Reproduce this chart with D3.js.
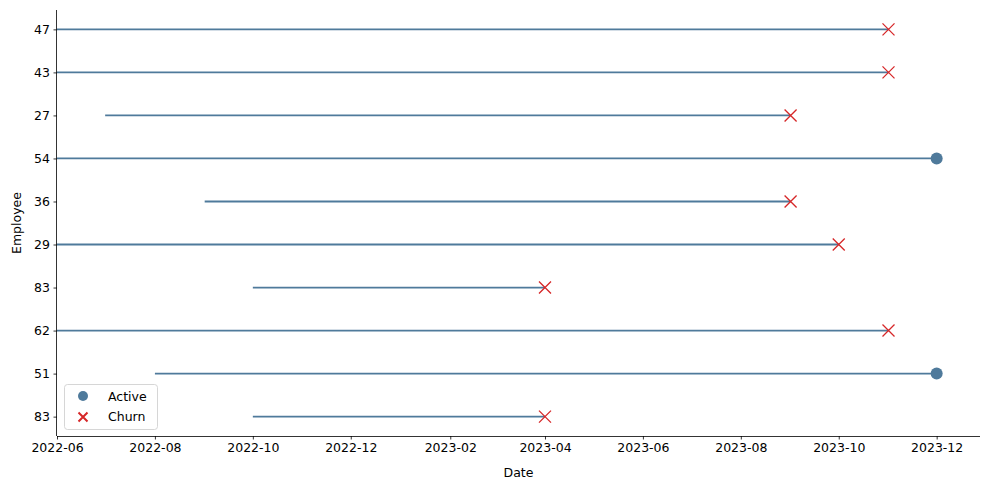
<!DOCTYPE html>
<html><head><meta charset="utf-8">
<script src="https://cdn.jsdelivr.net/npm/d3@7"></script>
<style>body{margin:0;background:#fff}text{font-family:"DejaVu Sans",sans-serif}</style>
</head><body><svg id="c" width="989" height="490"></svg>
<script>
const employees = ["83","51","62","83","29","36","54","27","43","47"];
const startDates = ["2022-10-01","2022-08-01","2022-06-01","2022-10-01","2022-06-01","2022-09-01","2022-06-01","2022-07-01","2022-06-01","2022-06-01"];
const endDates = ["2023-04-01","2023-12-01","2023-11-01","2023-04-01","2023-10-01","2023-09-01","2023-12-01","2023-09-01","2023-11-01","2023-11-01"];
const statuses = ["Churn","Active","Churn","Churn","Churn","Churn","Active","Churn","Churn","Churn"];
const xTicks = ["2022-06","2022-08","2022-10","2022-12","2023-02","2023-04","2023-06","2023-08","2023-10","2023-12"];

const parse = d3.timeParse("%Y-%m-%d");
const parseM = d3.timeParse("%Y-%m");
const svg = d3.select("#c");
const L=57,R=980,T=10,B=436;
const lineC="#4f7a9b", redC="#d62728";
const x = d3.scaleTime().domain([parse("2022-06-01"), parse("2023-12-28")]).range([L,R]);
const y = d3.scaleLinear().domain([-0.45, employees.length-1+0.45]).range([B,T]);

const xa = svg.append("g").attr("transform",`translate(0,${B})`)
  .call(d3.axisBottom(x).tickValues(xTicks.map(parseM)).tickFormat(d3.timeFormat("%Y-%m")).tickSize(3.5).tickPadding(3.5));
const ya = svg.append("g").attr("transform",`translate(${L},0)`)
  .call(d3.axisLeft(y).tickValues(d3.range(employees.length)).tickFormat(i=>employees[i]).tickSize(3.5).tickPadding(3.5));
[xa,ya].forEach(a=>{a.selectAll("text").attr("font-size",12.5).attr("fill","#000");a.selectAll("line,path").attr("stroke","#000").attr("stroke-width",0.8);});
xa.select(".domain").attr("d",`M${L},0.5H${R}`);
ya.select(".domain").attr("d",`M-0.5,${T}V${B}`);

const rows = employees.map((e,i)=>({i, s:parse(startDates[i]), e:parse(endDates[i]), st:statuses[i]}));
svg.append("g").selectAll("line").data(rows).join("line")
  .attr("x1",d=>x(d.s)).attr("x2",d=>x(d.e)).attr("y1",d=>y(d.i)).attr("y2",d=>y(d.i))
  .attr("stroke",lineC).attr("stroke-width",1.8);
svg.append("g").selectAll("circle").data(rows.filter(d=>d.st==="Active")).join("circle")
  .attr("cx",d=>x(d.e)).attr("cy",d=>y(d.i)).attr("r",6).attr("fill",lineC);
const xs=6;
function cross(g,cx,cy,s,w){
  g.append("path").attr("d",`M${cx-s},${cy-s}L${cx+s},${cy+s}M${cx-s},${cy+s}L${cx+s},${cy-s}`).attr("stroke",redC).attr("stroke-width",w).attr("fill","none");
}
const cg=svg.append("g");
rows.filter(d=>d.st==="Churn").forEach(d=>cross(cg,x(d.e),y(d.i),xs,1.3));

svg.append("text").attr("x",(L+R)/2).attr("y",477).attr("text-anchor","middle").attr("font-size",12.5).text("Date");
svg.append("text").attr("transform",`translate(21,${(T+B)/2}) rotate(-90)`).attr("text-anchor","middle").attr("font-size",12.5).text("Employee");

const lg=svg.append("g");
lg.append("rect").attr("x",64.5).attr("y",384.5).attr("width",93).attr("height",45).attr("rx",3).attr("fill","#fff").attr("fill-opacity",0.8).attr("stroke","#ccc").attr("stroke-width",0.8);
lg.append("circle").attr("cx",83).attr("cy",396).attr("r",5).attr("fill",lineC);
cross(lg,83,417,4.5,2);
lg.append("text").attr("x",108).attr("y",400.5).attr("font-size",12.5).text("Active");
lg.append("text").attr("x",108).attr("y",421).attr("font-size",12.5).text("Churn");
</script></body></html>
